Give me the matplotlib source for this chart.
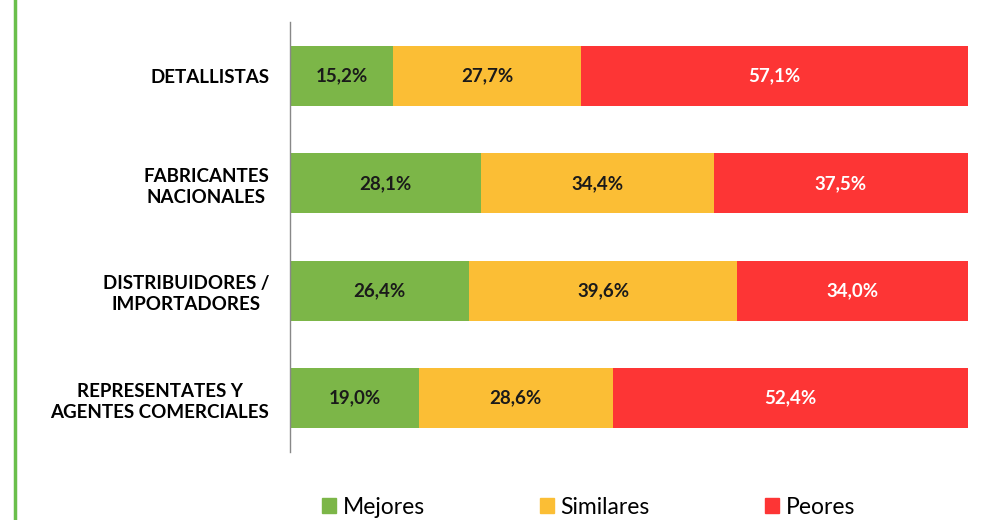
import matplotlib.pyplot as plt
from matplotlib.lines import Line2D
from matplotlib.patches import Patch

categories = ["DETALLISTAS", "FABRICANTES\nNACIONALES", "DISTRIBUIDORES /\nIMPORTADORES",
              "REPRESENTATES Y\nAGENTES COMERCIALES"]
mejores = [15.2, 28.1, 26.4, 19.0]
similares = [27.7, 34.4, 39.6, 28.6]
peores = [57.1, 37.5, 34.0, 52.4]
series_names = ["Mejores", "Similares", "Peores"]
colors = ["#7cb648", "#fbbe35", "#fd3535"]
text_colors = ["#1a1a1a", "#1a1a1a", "white"]

plt.rcParams['font.family'] = ['Lato', 'DejaVu Sans']

fig = plt.figure(figsize=(9.82, 5.2), dpi=100)
ax = fig.add_axes([290/982, 1-452/520, 678/982, 430/520])

y = range(len(categories))
left = [0] * len(categories)
for vals, col, tcol in zip([mejores, similares, peores], colors, text_colors):
    bars = ax.barh(y, vals, left=left, height=0.56, color=col, edgecolor='none')
    for b, v in zip(bars, vals):
        ax.text(b.get_x() + b.get_width()/2, b.get_y() + b.get_height()/2,
                f"{v:.1f}%".replace('.', ','), ha='center', va='center',
                fontsize=13.5, fontweight='bold', color=tcol)
    left = [l + v for l, v in zip(left, vals)]

ax.set_xlim(0, 100)
ax.set_ylim(3.5, -0.5)
ax.set_yticks(list(y))
ax.set_yticklabels(categories, fontsize=13.5, fontweight='bold', ha='right',
                   multialignment='center', linespacing=1.3)
ax.tick_params(axis='y', length=0, pad=15)
ax.set_xticks([])
for s in ['top', 'right', 'bottom']:
    ax.spines[s].set_visible(False)
ax.spines['left'].set_color('#888888')
ax.spines['left'].set_linewidth(1)

# one legend per entry, spaced like the original
for name, col, xpos in zip(series_names, colors, [322, 540, 765]):
    fig.legend([Patch(color=col)], [name], loc='center left',
               bbox_to_anchor=(xpos/982, 1-507/520), frameon=False, fontsize=16.5,
               handlelength=0.62, handleheight=0.62, handletextpad=0.28,
               borderpad=0, borderaxespad=0)

fig.add_artist(Line2D([15/982, 15/982], [0, 1], color='#6abf4b', linewidth=2.5))

fig.savefig("out.png", dpi=100)
